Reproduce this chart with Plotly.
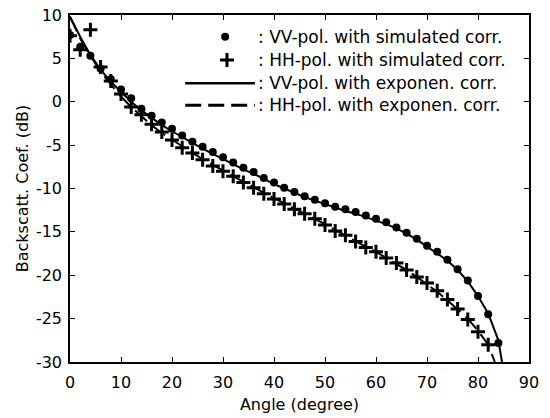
import plotly.graph_objects as go

# ---- data ----
sim_angles_vv = [0, 2, 4, 6, 8, 10, 12, 14, 16, 18, 20, 22, 24, 26, 28, 30, 32, 34, 36, 38, 40,
                 42, 44, 46, 48, 50, 52, 54, 56, 58, 60, 62, 64, 66, 68, 70, 72, 74, 76, 78, 80, 82, 84]
vv_sim = [7.7, 6.3, 5.3, 3.8, 2.6, 1.4, 0.4, -0.8, -1.6, -2.4, -3.1, -3.9, -4.6, -5.2, -5.8, -6.4,
          -7.0, -7.6, -8.1, -8.8, -9.3, -9.9, -10.4, -10.9, -11.3, -11.7, -12.1, -12.4, -12.7,
          -13.1, -13.5, -13.9, -14.5, -15.1, -15.8, -16.6, -17.3, -18.2, -19.3, -20.6, -22.4,
          -24.5, -27.8]

sim_angles_hh = [0, 2, 4, 6, 8, 10, 12, 14, 16, 18, 20, 22, 24, 26, 28, 30, 32, 34, 36, 38, 40,
                 42, 44, 46, 48, 50, 52, 54, 56, 58, 60, 62, 64, 66, 68, 70, 72, 74, 76, 78, 80, 82]
hh_sim = [7.6, 6.0, 8.3, 4.0, 2.4, 0.9, -0.6, -1.5, -2.6, -3.5, -4.4, -5.3, -5.9, -6.7, -7.4,
          -8.0, -8.6, -9.3, -9.9, -10.6, -11.2, -11.8, -12.4, -12.9, -13.5, -14.2, -14.9, -15.4,
          -16.1, -16.8, -17.3, -18.0, -18.6, -19.4, -20.2, -20.9, -21.8, -22.8, -23.9, -25.1,
          -26.5, -28.0]

exp_angles_vv = [0, 2, 4, 6, 8, 10, 12, 14, 16, 18, 20, 22, 24, 26, 28, 30, 32, 34, 36, 38, 40,
                 42, 44, 46, 48, 50, 52, 54, 56, 58, 60, 62, 64, 66, 68, 70, 72, 74, 76, 78, 80,
                 82, 84, 84.7]
vv_exp = [9.8, 7.5, 5.4, 3.7, 2.3, 1.1, 0.0, -1.0, -1.9, -2.7, -3.4, -4.1, -4.8, -5.4, -6.0,
          -6.6, -7.2, -7.8, -8.3, -8.9, -9.5, -10.0, -10.5, -11.0, -11.4, -11.8, -12.2, -12.6,
          -12.9, -13.3, -13.7, -14.1, -14.6, -15.2, -15.9, -16.7, -17.4, -18.3, -19.4, -20.7,
          -22.4, -24.4, -27.5, -30.0]

exp_angles_hh = [0, 2, 4, 6, 8, 10, 12, 14, 16, 18, 20, 22, 24, 26, 28, 30, 32, 34, 36, 38, 40,
                 42, 44, 46, 48, 50, 52, 54, 56, 58, 60, 62, 64, 66, 68, 70, 72, 74, 76, 78, 80,
                 82, 83.3]
hh_exp = [9.8, 7.3, 5.3, 3.5, 2.0, 0.6, -0.6, -1.7, -2.7, -3.6, -4.4, -5.2, -5.9, -6.6, -7.3,
          -8.0, -8.6, -9.2, -9.9, -10.5, -11.1, -11.7, -12.3, -12.9, -13.5, -14.1, -14.8, -15.4,
          -16.1, -16.7, -17.3, -18.0, -18.7, -19.4, -20.2, -21.0, -21.9, -22.9, -23.9, -25.0,
          -26.4, -28.0, -30.0]

legend_labels = [": VV-pol. with simulated corr.",
                 ": HH-pol. with simulated corr.",
                 ": VV-pol. with exponen. corr.",
                 ": HH-pol. with exponen. corr."]

x_ticks = [0, 10, 20, 30, 40, 50, 60, 70, 80, 90]
x_ticktext = ["0", "10", "20", "30", "40", "50", "60", "70", "80", "90"]
y_ticks = [-30, -25, -20, -15, -10, -5, 0, 5, 10]
y_ticktext = ["-30", "-25", "-20", "-15", "-10", "-5", "0", "5", "10"]

FONT = "DejaVu Sans"
DASH = "16px,7px"

fig = go.Figure()

fig.add_trace(go.Scatter(x=exp_angles_vv, y=vv_exp, mode="lines",
                         line=dict(color="black", width=2), showlegend=False))
fig.add_trace(go.Scatter(x=exp_angles_hh, y=hh_exp, mode="lines",
                         line=dict(color="black", width=2, dash=DASH), showlegend=False))
fig.add_trace(go.Scatter(x=sim_angles_vv, y=vv_sim, mode="markers",
                         marker=dict(symbol="circle", size=8, color="black"), showlegend=False))
fig.add_trace(go.Scatter(x=sim_angles_hh, y=hh_sim, mode="markers",
                         marker=dict(symbol="cross-thin", size=10, color="black",
                                     line=dict(color="black", width=3)), showlegend=False))

# ---- hand-made legend on an overlay axis (0..1 in both directions) ----
leg_y = [0.937, 0.870, 0.803, 0.740]
fig.add_trace(go.Scatter(x=[0.338], y=[leg_y[0]], xaxis="x2", yaxis="y2", mode="markers",
                         marker=dict(symbol="circle", size=8, color="black"), showlegend=False))
fig.add_trace(go.Scatter(x=[0.342], y=[leg_y[1]], xaxis="x2", yaxis="y2", mode="markers",
                         marker=dict(symbol="cross-thin", size=10, color="black",
                                     line=dict(color="black", width=3)), showlegend=False))
fig.add_trace(go.Scatter(x=[0.251, 0.403], y=[leg_y[2], leg_y[2]], xaxis="x2", yaxis="y2",
                         mode="lines", line=dict(color="black", width=2.5), showlegend=False))
fig.add_trace(go.Scatter(x=[0.251, 0.403], y=[leg_y[3], leg_y[3]], xaxis="x2", yaxis="y2",
                         mode="lines", line=dict(color="black", width=3, dash=DASH),
                         showlegend=False))

for lbl, yy in zip(legend_labels, leg_y):
    fig.add_annotation(x=0.405, y=yy, xref="paper", yref="paper", text=lbl, showarrow=False,
                       xanchor="left", yanchor="middle",
                       font=dict(family=FONT, size=17, color="black"))

axis_common = dict(showgrid=False, zeroline=False, showline=True, linecolor="black",
                   linewidth=1.5, mirror="ticks", ticks="inside", ticklen=5, tickwidth=1,
                   tickcolor="black", automargin=False,
                   tickfont=dict(family=FONT, size=16, color="black"))

fig.update_layout(
    width=550, height=418,
    margin=dict(l=70, r=21, t=15, b=56),
    paper_bgcolor="white", plot_bgcolor="white",
    xaxis=dict(range=[0, 90], tickvals=x_ticks, ticktext=x_ticktext, ticklabelstandoff=5,
               title=dict(text="Angle (degree)", font=dict(family=FONT, size=16, color="black"),
                          standoff=8),
               **axis_common),
    yaxis=dict(range=[-30, 10], tickvals=y_ticks, ticktext=y_ticktext, ticklabelstandoff=3,
               title=dict(text="Backscatt. Coef. (dB)",
                          font=dict(family=FONT, size=16, color="black"), standoff=3),
               **axis_common),
    xaxis2=dict(overlaying="x", range=[0, 1], visible=False),
    yaxis2=dict(overlaying="y", range=[0, 1], visible=False),
)

fig.write_html("out.html", config={"displayModeBar": False},
               post_script="document.body.style.margin='0px';")
